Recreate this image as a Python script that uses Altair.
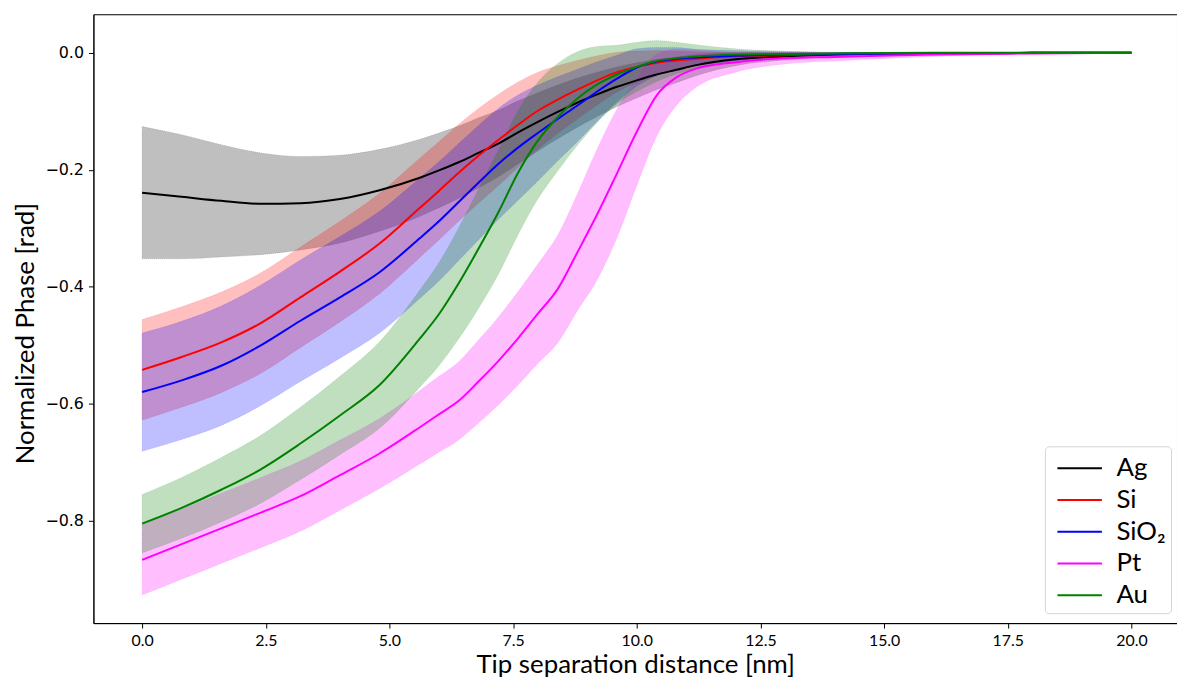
import altair as alt
import pandas as pd

# tip separation distance [nm]
x_nm = [0.0, 0.8, 1.6, 2.4, 3.2, 4.0, 4.8, 5.6, 6.0, 6.4, 6.8, 7.2, 7.6, 8.0,
        8.4, 8.8, 9.2, 9.6, 10.0, 10.4, 10.8, 11.2, 12.0, 13.0, 14.0, 16.0, 18.0, 20.0]

names = ["Ag", "Si", "SiO₂", "Pt", "Au"]
colors = ["#000000", "#ff0000", "#0000ff", "#ff00ff", "#008000"]

ag_mean = [-0.239, -0.246, -0.253, -0.258, -0.257, -0.250, -0.235, -0.214, -0.201, -0.187,
           -0.171, -0.155, -0.136, -0.118, -0.101, -0.085, -0.071, -0.058, -0.047, -0.037,
           -0.029, -0.021, -0.011, -0.006, -0.003, -0.001, 0.0, 0.0]
ag_hw = [0.113, 0.106, 0.096, 0.087, 0.080, 0.075, 0.070, 0.066, 0.064, 0.062,
         0.060, 0.057, 0.054, 0.050, 0.046, 0.042, 0.038, 0.034, 0.030, 0.026,
         0.022, 0.018, 0.011, 0.006, 0.003, 0.001, 0.0, 0.0]

si_mean = [-0.542, -0.520, -0.495, -0.462, -0.418, -0.374, -0.326, -0.266, -0.236, -0.205,
           -0.176, -0.149, -0.123, -0.099, -0.080, -0.063, -0.047, -0.033, -0.024, -0.017,
           -0.013, -0.010, -0.006, -0.004, -0.002, -0.001, 0.0, 0.0]
si_hw = [0.086, 0.086, 0.086, 0.086, 0.086, 0.086, 0.086, 0.085, 0.084, 0.083,
         0.081, 0.078, 0.073, 0.066, 0.058, 0.050, 0.042, 0.034, 0.027, 0.021,
         0.016, 0.012, 0.007, 0.004, 0.002, 0.001, 0.0, 0.0]

sio2_mean = [-0.580, -0.560, -0.535, -0.500, -0.458, -0.418, -0.375, -0.318, -0.288, -0.255,
             -0.222, -0.190, -0.162, -0.137, -0.113, -0.090, -0.066, -0.044, -0.025, -0.015,
             -0.010, -0.008, -0.005, -0.003, -0.002, -0.001, 0.0, 0.0]
sio2_hw = [0.101, 0.101, 0.102, 0.103, 0.104, 0.104, 0.104, 0.103, 0.102, 0.100,
           0.098, 0.095, 0.090, 0.082, 0.072, 0.062, 0.051, 0.040, 0.032, 0.024,
           0.019, 0.014, 0.009, 0.005, 0.003, 0.001, 0.0, 0.0]

pt_mean = [-0.867, -0.840, -0.813, -0.786, -0.758, -0.722, -0.685, -0.641, -0.618, -0.595,
           -0.562, -0.527, -0.488, -0.446, -0.404, -0.341, -0.276, -0.206, -0.135, -0.073,
           -0.042, -0.027, -0.016, -0.009, -0.007, -0.003, -0.001, 0.0]
pt_hw = [0.060, 0.060, 0.060, 0.060, 0.060, 0.060, 0.060, 0.063, 0.065, 0.067,
         0.071, 0.075, 0.080, 0.085, 0.092, 0.100, 0.112, 0.110, 0.092, 0.070,
         0.048, 0.032, 0.017, 0.010, 0.007, 0.003, 0.001, 0.0]

au_mean = [-0.805, -0.778, -0.747, -0.712, -0.668, -0.620, -0.568, -0.490, -0.447, -0.394,
           -0.335, -0.273, -0.205, -0.150, -0.110, -0.078, -0.054, -0.037, -0.024, -0.014,
           -0.009, -0.006, -0.003, -0.002, -0.001, 0.0, 0.0, 0.0]
au_hw = [0.050, 0.052, 0.055, 0.058, 0.062, 0.067, 0.074, 0.083, 0.088, 0.095,
         0.102, 0.106, 0.106, 0.100, 0.092, 0.080, 0.065, 0.050, 0.042, 0.035,
         0.027, 0.020, 0.010, 0.005, 0.002, 0.001, 0.0, 0.0]

x_ticks = [0.0, 2.5, 5.0, 7.5, 10.0, 12.5, 15.0, 17.5, 20.0]
y_ticks = [-0.8, -0.6, -0.4, -0.2, 0.0]

series = [
    ("Ag", ag_mean, ag_hw),
    ("Si", si_mean, si_hw),
    ("SiO₂", sio2_mean, sio2_hw),
    ("Pt", pt_mean, pt_hw),
    ("Au", au_mean, au_hw),
]

frames = {}
for name, mean, hw in series:
    frames[name] = pd.DataFrame({
        "x": x_nm,
        "mean": mean,
        "lo": [m - h for m, h in zip(mean, hw)],
        "hi": [m + h for m, h in zip(mean, hw)],
        "series": name,
    })

xscale = alt.Scale(domain=[-0.984, 20.92], nice=False, zero=False)
yscale = alt.Scale(domain=[-0.975, 0.066], nice=False, zero=False)

xaxis = alt.Axis(values=x_ticks, format=".1f", title="Tip separation distance [nm]",
                 grid=False, labelFont="Lato", labelFontSize=16, labelPadding=5,
                 titleFont="Lato", titleFontSize=26, titleFontWeight="normal",
                 titleY=50, titleBaseline="alphabetic")
yaxis = alt.Axis(values=y_ticks, format=".1f", title="Normalized Phase [rad]",
                 grid=False, labelFont="DejaVu Sans", labelFontSize=16, labelPadding=5,
                 titleFont="Lato", titleFontSize=26, titleFontWeight="normal",
                 titleX=-68, titleY=321, titleAngle=270, titleAlign="center",
                 titleBaseline="middle")

color_scale = alt.Scale(domain=names, range=colors)

layers = []
for (name, _, _), col in zip(series, colors):
    layers.append(
        alt.Chart(frames[name]).mark_area(
            interpolate="monotone",
            fill=col, fillOpacity=0.25, stroke=col, strokeOpacity=0.2,
            strokeWidth=0.8, strokeDash=[1, 1]
        ).encode(
            x=alt.X("x:Q", scale=xscale, axis=xaxis),
            y=alt.Y("lo:Q", scale=yscale, axis=yaxis),
            y2="hi:Q",
        )
    )
for (name, _, _), col in zip(series, colors):
    layers.append(
        alt.Chart(frames[name]).mark_line(strokeWidth=2, interpolate="monotone").encode(
            x=alt.X("x:Q", scale=xscale, axis=xaxis),
            y=alt.Y("mean:Q", scale=yscale, axis=yaxis),
            color=alt.Color("series:N", scale=color_scale, sort=names,
                            legend=alt.Legend(title=None)),
        )
    )

chart = alt.layer(*layers).properties(
    width=1091, height=613,
    padding={"left": 86, "top": 4, "right": 0, "bottom": 58},
    autosize=alt.AutoSizeParams(type="none"),
).configure_view(
    stroke="black", strokeWidth=1
).configure_axis(
    domainColor="black", tickColor="black", labelColor="black", titleColor="black",
    tickSize=5, domainWidth=1, tickWidth=1
).configure_legend(
    orient="none", legendX=958, legendY=435,
    strokeColor="#d4d4d4", fillColor="white", cornerRadius=4, padding=5,
    symbolType="M-1.4,0H1.4", symbolSize=1024, symbolStrokeWidth=2,
    symbolOffset=13,
    labelFont="Lato", labelFontSize=26, labelColor="black", labelOffset=20,
    rowPadding=2
)

chart.save("out.html", embed_options={"renderer": "svg", "actions": False})
